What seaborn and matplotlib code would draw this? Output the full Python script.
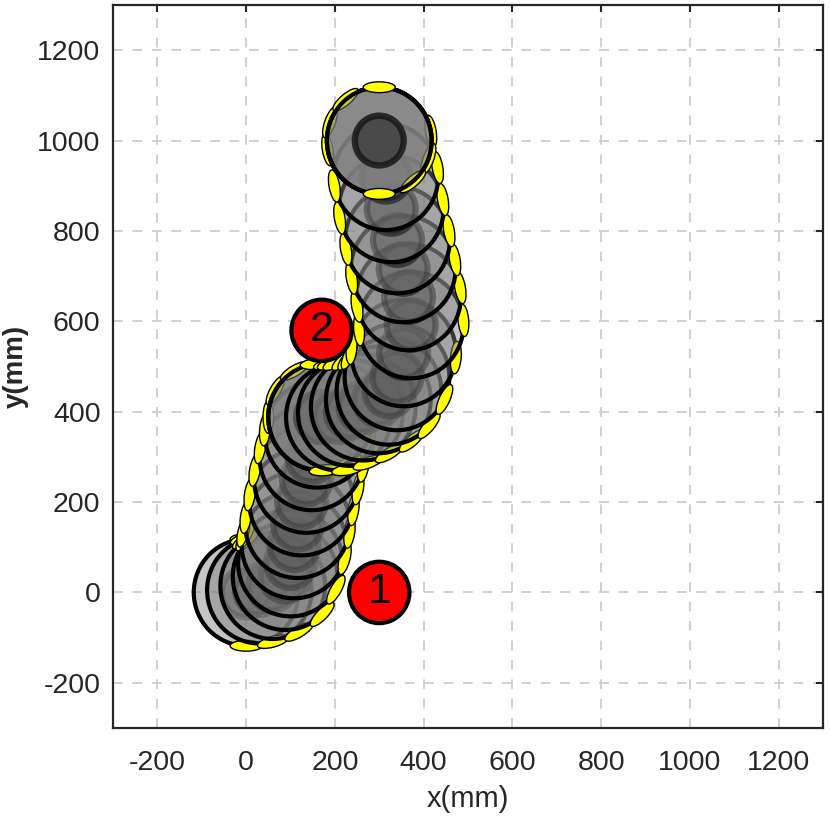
import numpy as np
import matplotlib
matplotlib.use("Agg")
import matplotlib.pyplot as plt
from matplotlib.patches import Circle, Ellipse
import seaborn as sns

# robot poses along the path (mm, deg)
pose_x = [0, 30, 60, 88, 100, 108, 116, 125, 136, 148, 160, 168,
          168, 168, 168, 208, 235, 264, 298, 322, 340, 355, 372, 366, 354, 341, 327,
          315, 300, 300, 300, 300]
pose_y = [0, 5, 15, 35, 65, 105, 150, 200, 250, 300, 350, 388,
          388, 388, 388, 388, 398, 410, 426, 445, 477, 530, 592, 654, 716, 780, 849,
          920, 1000, 1000, 1000, 1000]
pose_th = [0, 15, 30, 45, 60, 75, 82, 82, 80, 80, 85, 90,
           60, 30, 5, 10, 20, 30, 40, 50, 65, 85, 95, 100, 100, 100, 100,
           100, 100, 70, 40, 0]

# obstacles
obs_x = [300, 170]
obs_y = [0, 580]
obs_label = ["1", "2"]

ticks = [-200, 0, 200, 400, 600, 800, 1000, 1200]

R_BODY = 118
R_INNER = 55
R_OBS = 68
WHEEL_L = 72
WHEEL_W = 24

sns.set_theme(style="whitegrid")
plt.rcParams["font.family"] = ["Liberation Sans", "DejaVu Sans"]
plt.rcParams["axes.unicode_minus"] = False

fig = plt.figure(figsize=(8.30, 8.31), dpi=100)
ax = fig.add_axes([113 / 830, 103 / 831, 710 / 830, 723 / 831])
ax.set_facecolor("white")

for i, (x, y, th) in enumerate(zip(pose_x, pose_y, pose_th)):
    z = 3 + 3 * i
    ax.add_patch(Circle((x, y), R_BODY, facecolor="0.5", alpha=0.45, zorder=z))
    ax.add_patch(Circle((x, y), R_BODY, facecolor="none", edgecolor="black", lw=3, zorder=z))
    ax.add_patch(Circle((x, y), R_INNER, facecolor="0.2", edgecolor="black",
                        lw=4.5, alpha=0.5, zorder=z + 1))
    t = np.deg2rad(th)
    for s in (1, -1):
        wx = x - s * R_BODY * np.sin(t)
        wy = y + s * R_BODY * np.cos(t)
        ax.add_patch(Ellipse((wx, wy), WHEEL_L, WHEEL_W, angle=th, facecolor="#ffff00",
                             edgecolor="black", lw=1, zorder=z + 2))

for x, y, lab in zip(obs_x, obs_y, obs_label):
    ax.add_patch(Circle((x, y), R_OBS, facecolor="#ff0000", edgecolor="black", lw=3, zorder=200))
    ax.text(x, y, lab, ha="center", va="center", fontsize=31, color="black", zorder=201)

ax.set_xlim(-300, 1300)
ax.set_ylim(-300, 1300)
ax.set_xticks(ticks)
ax.set_yticks(ticks)
ax.grid(True, color="#d0d0d0", linestyle=(0, (5, 5)), linewidth=1.4)
ax.set_axisbelow(True)

for sp in ax.spines.values():
    sp.set_visible(True)
    sp.set_color("#262626")
    sp.set_linewidth(1.6)

ax.tick_params(axis="both", direction="in", length=5, width=1.5, color="#262626",
               top=True, right=True, labelsize=20.5, labelcolor="#262626")
ax.tick_params(axis="x", pad=16)
ax.tick_params(axis="y", pad=9)

ax.set_xlabel("x(mm)", fontsize=21, color="#262626", labelpad=6)
ax.set_ylabel("y(mm)", fontsize=20, fontweight="bold", color="#262626", labelpad=6)

fig.savefig("out.png", dpi=100)
